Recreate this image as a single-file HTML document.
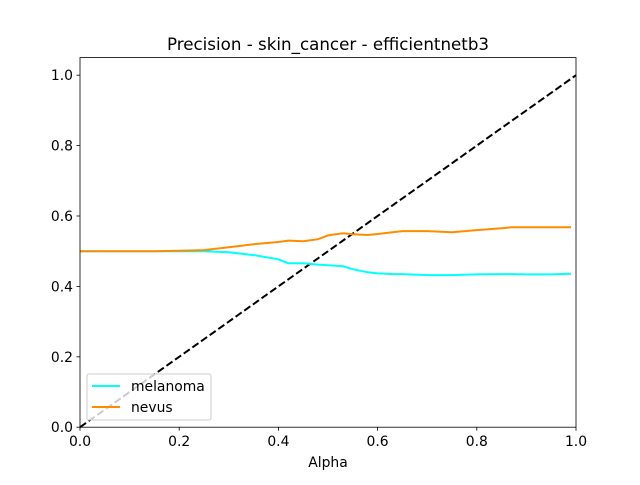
<!DOCTYPE html>
<html><head><meta charset="utf-8"><style>
body{margin:0;background:#fff;}
svg text{font-family:"DejaVu Sans","Liberation Sans",sans-serif;}
</style></head><body>
<svg id="chart" width="640" height="480" xmlns="http://www.w3.org/2000/svg">
<rect width="640" height="480" fill="#fff"/>
<text x="328" y="50" font-size="16.7" text-anchor="middle">Precision - skin_cancer - efficientnetb3</text>
<g id="marks"></g>
<rect x="80" y="57.6" width="496" height="369.6" fill="none" stroke="#000" stroke-width="0.8"/>
<g id="ticks"></g>
<text x="328" y="467" font-size="13.9" text-anchor="middle">Alpha</text>
<g>
<rect x="87" y="374" width="124" height="46" rx="2" fill="#fff" fill-opacity="0.8" stroke="#ccc" stroke-width="1"/>
<line x1="92" y1="386" x2="120" y2="386" stroke="#00ffff" stroke-width="2"/>
<text x="131" y="391" font-size="13.9">melanoma</text>
<line x1="92" y1="407" x2="120" y2="407" stroke="#ff8c00" stroke-width="2"/>
<text x="131" y="412" font-size="13.9">nevus</text>
</g>
</svg>
<script>
const alphas = [0,0.05,0.1,0.15,0.2,0.25,0.3,0.35,0.4,0.42,0.45,0.48,0.5,0.53,0.55,0.58,0.6,0.63,0.65,0.7,0.75,0.8,0.85,0.87,0.9,0.95,0.99];
const melanoma = [0.5,0.5,0.5,0.5,0.5,0.5,0.497,0.489,0.477,0.466,0.466,0.462,0.46,0.457,0.449,0.44,0.437,0.435,0.435,0.432,0.432,0.434,0.435,0.435,0.434,0.434,0.436];
const nevus = [0.5,0.5,0.5,0.5,0.501,0.503,0.511,0.52,0.526,0.53,0.528,0.534,0.545,0.551,0.548,0.546,0.549,0.554,0.557,0.557,0.554,0.56,0.565,0.568,0.568,0.568,0.568];
const xTicks = [0,0.2,0.4,0.6,0.8,1.0];
const yTicks = [0,0.2,0.4,0.6,0.8,1.0];
const X = v => 80 + v*496;
const Y = v => 427.2 - v*352;
const NS = "http://www.w3.org/2000/svg";
const marks = document.getElementById('marks');
const ticks = document.getElementById('ticks');
function mk(tag, attrs, parent){const e=document.createElementNS(NS,tag);for(const k in attrs)e.setAttribute(k,attrs[k]);parent.appendChild(e);return e;}
const diag = mk('line',{x1:X(0),y1:Y(0),x2:X(1),y2:Y(1),stroke:'#000','stroke-width':2,'stroke-dasharray':'7.4,3.2'},marks);


const pts = arr => arr.map((v,i)=>X(alphas[i]).toFixed(1)+','+Y(v).toFixed(1)).join(' ');
const l1 = mk('polyline',{points:pts(melanoma),fill:'none',stroke:'#00ffff','stroke-width':2},marks);


const l2 = mk('polyline',{points:pts(nevus),fill:'none',stroke:'#ff8c00','stroke-width':2},marks);


xTicks.forEach(t=>{
  const g = mk('g',{},ticks);
  
  
  mk('line',{x1:X(t),y1:427.2,x2:X(t),y2:430.7,stroke:'#000','stroke-width':0.8},g);
  const tx = mk('text',{x:X(t),y:446,'font-size':13.9,'text-anchor':'middle'},g);
  tx.textContent = t.toFixed(1);
});
yTicks.forEach(t=>{
  const g = mk('g',{},ticks);
  
  
  mk('line',{x1:76.5,y1:Y(t),x2:80,y2:Y(t),stroke:'#000','stroke-width':0.8},g);
  const tx = mk('text',{x:73,y:Y(t)+5,'font-size':13.9,'text-anchor':'end'},g);
  tx.textContent = t.toFixed(1);
});
</script>
</body></html>
